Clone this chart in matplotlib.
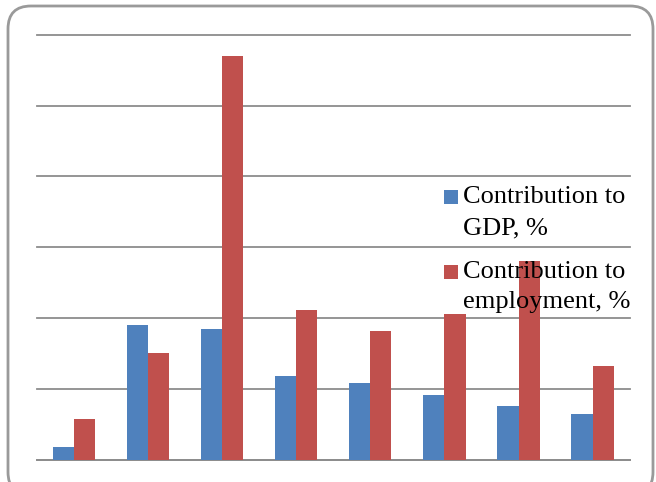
import matplotlib
matplotlib.use("Agg")
import matplotlib.pyplot as plt
import numpy as np
from matplotlib.patches import FancyBboxPatch, Rectangle

categories = ["1", "2", "3", "4", "5", "6", "7", "8"]
gdp = [0.9, 9.5, 9.2, 5.9, 5.4, 4.6, 3.8, 3.2]
employment = [2.9, 7.5, 28.5, 10.6, 9.1, 10.3, 14.0, 6.6]
series_labels = ["Contribution to\nGDP, %", "Contribution to\nemployment, %"]
colors = ["#4F81BD", "#C0504D"]

W, H = 656, 482
fig = plt.figure(figsize=(W / 100, H / 100), dpi=100)
fig.patch.set_facecolor("white")

# rounded outer border
border = FancyBboxPatch((8 / W, 1 - 495 / H), (653 - 8) / W, (495 - 6) / H,
                        boxstyle="round,pad=0,rounding_size=0.035",
                        transform=fig.transFigure, fill=False,
                        edgecolor="#9a9a9a", linewidth=2.0, mutation_aspect=W / H)
fig.add_artist(border)

ax = fig.add_axes([36.8 / W, 1 - 459.7 / H, (629.7 - 36.8) / W, (459.7 - 34.7) / H])
x = np.arange(len(categories)) + 0.5
bw = 1 / 3.5
ax.bar(x - bw / 2, gdp, width=bw, color=colors[0], zorder=3)
ax.bar(x + bw / 2, employment, width=bw, color=colors[1], zorder=3)
ax.set_xlim(0, len(categories))
ax.set_ylim(0, 30)
ax.set_yticks(np.arange(0, 31, 5))
ax.yaxis.grid(True, color="#8c8c8c", linewidth=1.3, zorder=0)
for gl in ax.get_ygridlines():
    gl.set_clip_on(False)
ax.set_xticks([])
ax.tick_params(left=False, labelleft=False)
for s in ["top", "right", "left"]:
    ax.spines[s].set_visible(False)
ax.spines["bottom"].set_color("#8c8c8c")
ax.spines["bottom"].set_linewidth(1.3)
ax.set_facecolor("none")

# legend drawn manually
font = dict(family="Liberation Serif", size=19, color="black")
entries = [(197, 228), (272, 302)]
for (y1, y2), lab, c in zip(entries, series_labels, colors):
    fig.add_artist(Rectangle((444 / W, 1 - (y1 + 7) / H), 14 / W, 14 / H,
                             transform=fig.transFigure, facecolor=c, edgecolor="none", zorder=5))
    l1, l2 = lab.split("\n")
    fig.text(463 / W, 1 - y1 / H, l1, va="center", ha="left", zorder=6, **font)
    fig.text(463 / W, 1 - y2 / H, l2, va="center", ha="left", zorder=6, **font)

fig.savefig("out.png", dpi=100)
